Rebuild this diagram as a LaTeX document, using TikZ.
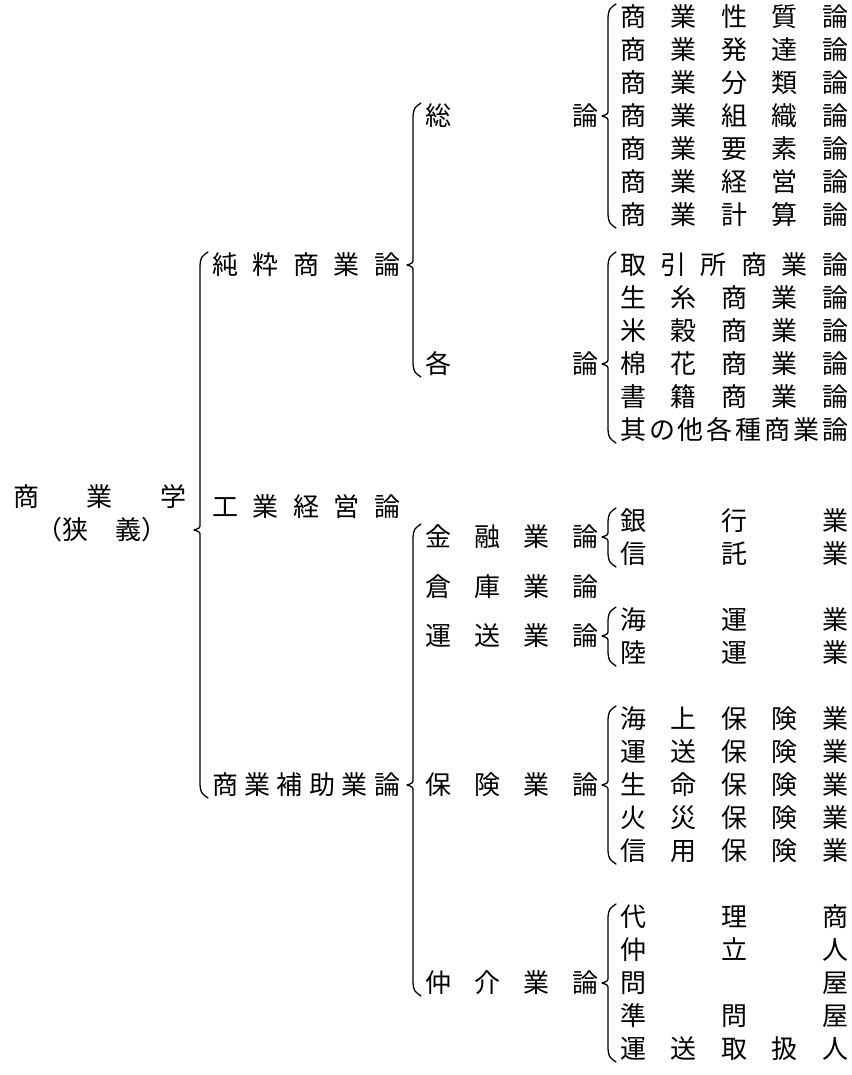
\documentclass[tikz,border=0pt]{standalone}
\usepackage{fontspec}
\setmainfont{Noto Sans CJK JP}
\usetikzlibrary{calc}

\tikzset{
  lbl/.style={anchor=west, inner sep=0pt, font=\fontsize{26}{26}\selectfont},
  brc/.style={line width=1.3pt, line cap=round, line join=round},
}
% text spread over a fixed width
\newcommand\wide[2]{\makebox[#1pt][s]{#2}}
% curly brace from a parent to its first and last child
\newcommand\grpbrace[3]{%
  \draw[brc] let \p1=(#1.east), \p2=(#2.west), \p3=(#3.west) in
    (\x2-4pt,\y2+13pt) .. controls (\x2-11pt,\y2+8pt) .. (\x2-12pt,\y2)
    -- (\x2-12pt,\y1+6pt) .. controls (\x2-12pt,\y1+2pt) .. (\x2-18pt,\y1)
    .. controls (\x2-12pt,\y1-2pt) .. (\x2-12pt,\y1-6pt)
    -- (\x2-12pt,\y3) .. controls (\x2-11pt,\y3-8pt) .. (\x2-4pt,\y3-13pt);}

\begin{document}
\begin{tikzpicture}[x=1pt, y=-1pt]
  \useasboundingbox (0,0) rectangle (851,1075);

  % root
  \node[lbl] (root) at (13,497) {\wide{173}{商\hfill 業\hfill 学}};
  \node[lbl] (note) at (36,530) {\wide{131}{（狭\hfill 義）}};

  % first level
  \node[lbl] (pure) at (212,265) {\wide{188}{純\hfill 粋\hfill 商\hfill 業\hfill 論}};
  \node[lbl] (ind)  at (212,507) {\wide{188}{工\hfill 業\hfill 経\hfill 営\hfill 論}};
  \node[lbl] (aux)  at (212,785) {\wide{188}{商\hfill 業\hfill 補\hfill 助\hfill 業\hfill 論}};

  % second level
  \node[lbl] (gen)   at (425,116) {\wide{173}{総\hfill 論}};
  \node[lbl] (spec)  at (425,364) {\wide{173}{各\hfill 論}};
  \node[lbl] (fin)   at (425,537) {\wide{173}{金\hfill 融\hfill 業\hfill 論}};
  \node[lbl] (ware)  at (425,587) {\wide{173}{倉\hfill 庫\hfill 業\hfill 論}};
  \node[lbl] (trans) at (425,636) {\wide{173}{運\hfill 送\hfill 業\hfill 論}};
  \node[lbl] (ins)   at (425,785) {\wide{173}{保\hfill 険\hfill 業\hfill 論}};
  \node[lbl] (agent) at (425,983) {\wide{173}{仲\hfill 介\hfill 業\hfill 論}};

  % general theory
  \node[lbl] (g1) at (620,17)  {\wide{228}{商\hfill 業\hfill 性\hfill 質\hfill 論}};
  \node[lbl] (g2) at (620,50)  {\wide{228}{商\hfill 業\hfill 発\hfill 達\hfill 論}};
  \node[lbl] (g3) at (620,83)  {\wide{228}{商\hfill 業\hfill 分\hfill 類\hfill 論}};
  \node[lbl] (g4) at (620,116) {\wide{228}{商\hfill 業\hfill 組\hfill 織\hfill 論}};
  \node[lbl] (g5) at (620,149) {\wide{228}{商\hfill 業\hfill 要\hfill 素\hfill 論}};
  \node[lbl] (g6) at (620,182) {\wide{228}{商\hfill 業\hfill 経\hfill 営\hfill 論}};
  \node[lbl] (g7) at (620,215) {\wide{228}{商\hfill 業\hfill 計\hfill 算\hfill 論}};

  % special theory
  \node[lbl] (s1) at (620,265) {\wide{228}{取\hfill 引\hfill 所\hfill 商\hfill 業\hfill 論}};
  \node[lbl] (s2) at (620,298) {\wide{228}{生\hfill 糸\hfill 商\hfill 業\hfill 論}};
  \node[lbl] (s3) at (620,331) {\wide{228}{米\hfill 穀\hfill 商\hfill 業\hfill 論}};
  \node[lbl] (s4) at (620,364) {\wide{228}{棉\hfill 花\hfill 商\hfill 業\hfill 論}};
  \node[lbl] (s5) at (620,397) {\wide{228}{書\hfill 籍\hfill 商\hfill 業\hfill 論}};
  \node[lbl] (s6) at (620,430) {\wide{228}{其\hfill の\hfill 他\hfill 各\hfill 種\hfill 商\hfill 業\hfill 論}};

  % finance
  \node[lbl] (b1) at (620,521) {\wide{228}{銀\hfill 行\hfill 業}};
  \node[lbl] (b2) at (620,554) {\wide{228}{信\hfill 託\hfill 業}};

  % transport
  \node[lbl] (t1) at (620,620) {\wide{228}{海\hfill 運\hfill 業}};
  \node[lbl] (t2) at (620,653) {\wide{228}{陸\hfill 運\hfill 業}};

  % insurance
  \node[lbl] (i1) at (620,719) {\wide{228}{海\hfill 上\hfill 保\hfill 険\hfill 業}};
  \node[lbl] (i2) at (620,752) {\wide{228}{運\hfill 送\hfill 保\hfill 険\hfill 業}};
  \node[lbl] (i3) at (620,785) {\wide{228}{生\hfill 命\hfill 保\hfill 険\hfill 業}};
  \node[lbl] (i4) at (620,818) {\wide{228}{火\hfill 災\hfill 保\hfill 険\hfill 業}};
  \node[lbl] (i5) at (620,851) {\wide{228}{信\hfill 用\hfill 保\hfill 険\hfill 業}};

  % brokerage
  \node[lbl] (a1) at (620,917)  {\wide{228}{代\hfill 理\hfill 商}};
  \node[lbl] (a2) at (620,950)  {\wide{228}{仲\hfill 立\hfill 人}};
  \node[lbl] (a3) at (620,983)  {\wide{228}{問\hfill 屋}};
  \node[lbl] (a4) at (620,1016) {\wide{228}{準\hfill 問\hfill 屋}};
  \node[lbl] (a5) at (620,1049) {\wide{228}{運\hfill 送\hfill 取\hfill 扱\hfill 人}};

  % braces
  \grpbrace{note}{pure}{aux}
  \grpbrace{pure}{gen}{spec}
  \grpbrace{gen}{g1}{g7}
  \grpbrace{spec}{s1}{s6}
  \grpbrace{aux}{fin}{agent}
  \grpbrace{fin}{b1}{b2}
  \grpbrace{trans}{t1}{t2}
  \grpbrace{ins}{i1}{i5}
  \grpbrace{agent}{a1}{a5}
\end{tikzpicture}
\end{document}
